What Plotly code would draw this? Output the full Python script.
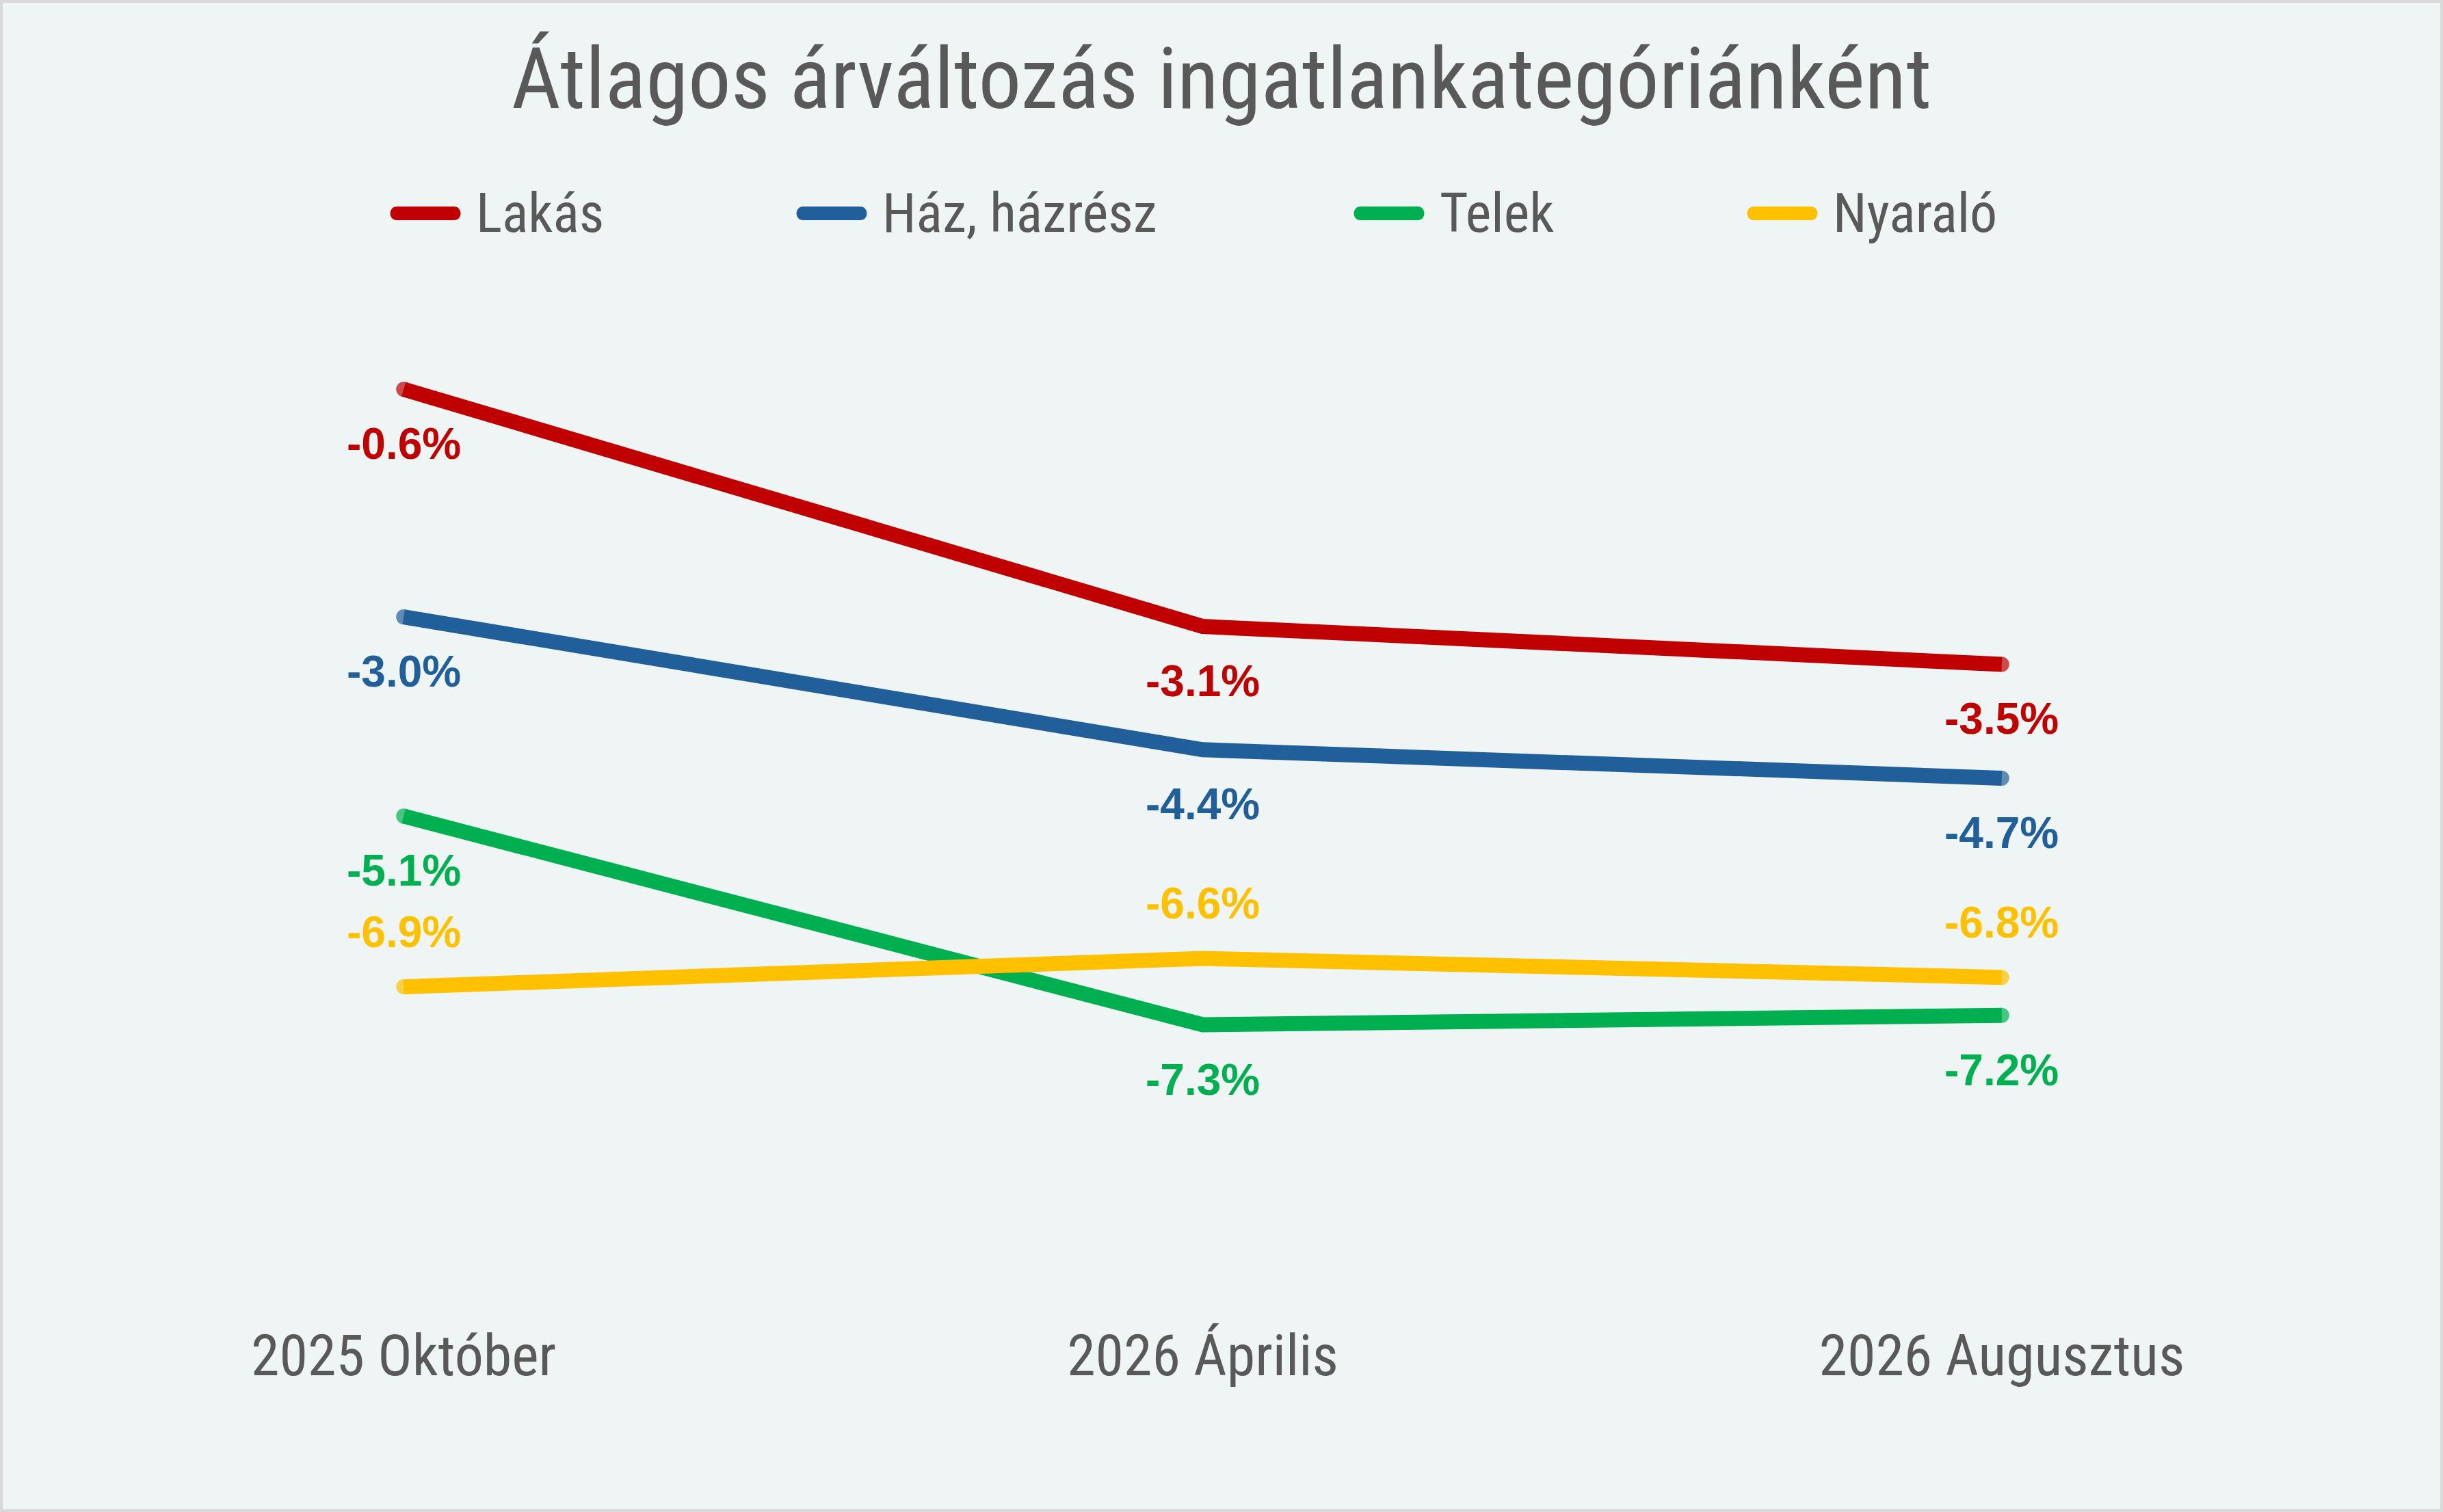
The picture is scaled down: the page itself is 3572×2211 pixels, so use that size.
import plotly.graph_objects as go

# ---- data ----
categories = ["2025 Október", "2026 Április", "2026 Augusztus"]
series_names = ["Lakás", "Ház, házrész", "Telek", "Nyaraló"]
lakas = [-0.6, -3.1, -3.5]
haz = [-3.0, -4.4, -4.7]
telek = [-5.1, -7.3, -7.2]
nyaralo = [-6.9, -6.6, -6.8]
title_text = "Átlagos árváltozás ingatlankategóriánként"

# ---- style ----
W, H = 3572, 2211
ML, MR, MT, MB = 6, 61, 486, 338
PW, PH = W - ML - MR, H - MT - MB
colors = ["#C00000", "#215F9A", "#00B050", "#FFC000"]
label_side = [-1, -1, -1, 1]   # -1 below, +1 above
BG = "#EFF5F5"
GREY = "#595959"
NARROW = "Liberation Sans Narrow, Arial Narrow, Roboto Condensed, sans-serif"
BOLD = "Liberation Sans, Arial, sans-serif"

values = [lakas, haz, telek, nyaralo]

fig = go.Figure()
for name, vals, col in zip(series_names, values, colors):
    fig.add_trace(go.Scatter(
        x=categories, y=vals, name=name, mode="lines+markers",
        line=dict(color=col, width=22),
        marker=dict(color=col, size=[22, 0, 22], line=dict(width=0)),
        showlegend=False, hoverinfo="skip",
    ))

annotations = []
for vals, col, side in zip(values, colors, label_side):
    for c, v in zip(categories, vals):
        annotations.append(dict(
            x=c, y=v, xref="x", yref="y", text=f"{v:.1f}%", showarrow=False,
            yshift=80 * side, xanchor="center", yanchor="middle",
            font=dict(family=BOLD, size=64, color=col, weight="bold"),
        ))

# manual legend (bars + text)
legend_bar_px = [622, 1216, 2031, 2606]
legend_y_px = 312
def px2x(px):
    return (px - ML) / PW
def py2y(py):
    return (H - MB - py) / PH

L, r = 103, 10
def bar_path():
    a = L / 2 - r
    k = 1.33 * r
    return (f"M {-a},{-r} L {a},{-r} C {a + k},{-r} {a + k},{r} {a},{r} "
            f"L {-a},{r} C {-a - k},{r} {-a - k},{-r} {-a},{-r} Z")

shapes = []
for name, col, bx in zip(series_names, colors, legend_bar_px):
    shapes.append(dict(
        type="path", xref="paper", yref="paper", xsizemode="pixel", ysizemode="pixel",
        xanchor=px2x(bx), yanchor=py2y(legend_y_px), path=bar_path(),
        fillcolor=col, line=dict(width=0),
    ))
    annotations.append(dict(
        x=px2x(bx + L / 2 + 20), y=py2y(legend_y_px), xref="paper", yref="paper",
        text=name, showarrow=False, xanchor="left", yanchor="middle",
        font=dict(family=NARROW, size=80, color=GREY),
    ))

# outer border
shapes.append(dict(
    type="rect", xref="paper", yref="paper",
    x0=px2x(2), x1=px2x(W - 2), y0=py2y(H - 2), y1=py2y(2),
    line=dict(color="#D9D9D9", width=4), fillcolor="rgba(0,0,0,0)", layer="below",
))

fig.update_layout(
    width=W, height=H,
    margin=dict(l=ML, r=MR, t=MT, b=MB),
    paper_bgcolor=BG, plot_bgcolor=BG,
    title=dict(text=title_text, x=0.5, xanchor="center", y=1 - 114 / H, yanchor="middle",
               yref="container", font=dict(family=NARROW, size=125, color=GREY)),
    xaxis=dict(type="category", range=[-0.5, 2.5], showgrid=False, zeroline=False,
               showline=False, ticks="", ticklabelstandoff=53,
               tickfont=dict(family=NARROW, size=84, color=GREY)),
    yaxis=dict(range=[-10, 0], showgrid=False, zeroline=False, showline=False,
               showticklabels=False, ticks=""),
    annotations=annotations, shapes=shapes,
    showlegend=False,
)

fig.write_html("out.html", config={"displayModeBar": False},
               post_script="document.body.style.margin='0';document.body.style.overflow='hidden';")
